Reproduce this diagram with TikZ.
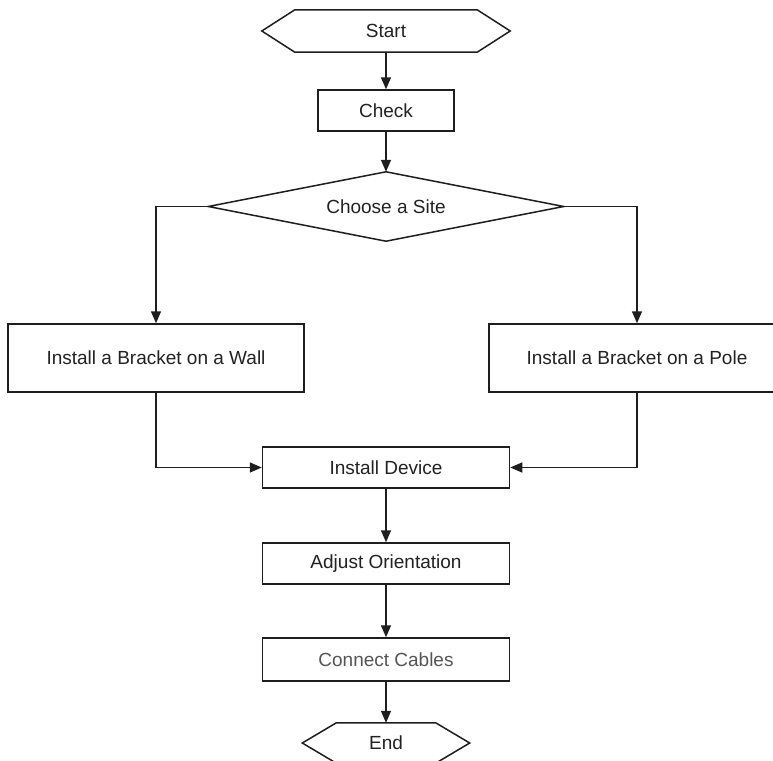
\documentclass[tikz,border=0pt]{standalone}
\usepackage{fontspec}
\setmainfont{Liberation Sans}
\usetikzlibrary{arrows.meta}
\definecolor{linegray}{HTML}{1E1E1E}
\definecolor{textgray}{HTML}{222222}
\definecolor{softgray}{HTML}{555555}
\tikzset{
  base/.style={inner sep=0pt, text=textgray, font=\fontsize{19}{22}\selectfont},
  outline/.style={draw=linegray, line width=1.5pt},
  stepbox/.style={base, outline, minimum width=#1},
  stepbox/.default=247pt,
  term/.style={base, minimum height=41pt},
  flow/.style={outline, -{Triangle[length=12pt,width=10pt]}}
}
\begin{document}
\begin{tikzpicture}[x=1pt, y=-1pt]
  \clip (0,0) rectangle (773,760);
  \fill[white] (0,0) rectangle (773,760);

  % terminals and decision (outlines drawn below)
  \node[term, minimum width=248pt, minimum height=42pt] (start) at (386,31) {Start};
  \node[term, minimum width=167pt, minimum height=40pt] (end) at (386,743) {End};
  \node[base, minimum width=355pt, minimum height=69pt] (site) at (386,206.5) {Choose a Site};

  % steps
  \node[stepbox=136pt, minimum height=41pt] (check) at (386,110.5) {Check};
  \node[stepbox=296pt, minimum height=68pt] (wall) at (156,358) {Install a Bracket on a Wall};
  \node[stepbox=296pt, minimum height=68pt] (pole) at (637,358) {Install a Bracket on a Pole};
  \node[stepbox, minimum height=41pt] (device) at (386,467.5) {Install Device};
  \node[stepbox, minimum height=41pt] (orient) at (386,563.5) {Adjust Orientation};
  \node[stepbox, minimum height=43pt, text=softgray] (cables) at (386,659.5) {Connect Cables};

  % hexagon and diamond outlines
  \draw[outline] (start.west) -- ([xshift=33pt]start.north west)
    -- ([xshift=-33pt]start.north east) -- (start.east)
    -- ([xshift=-33pt]start.south east) -- ([xshift=33pt]start.south west) -- cycle;
  \draw[outline] (end.west) -- ([xshift=34pt]end.north west)
    -- ([xshift=-34pt]end.north east) -- (end.east)
    -- ([xshift=-34pt]end.south east) -- ([xshift=34pt]end.south west) -- cycle;
  \draw[outline] (site.west) -- (site.north) -- (site.east) -- (site.south) -- cycle;

  % connectors
  \draw[flow] (start) -- (check);
  \draw[flow] (check) -- (site);
  \draw[flow] (site.west) -| (wall.north);
  \draw[flow] (site.east) -| (pole.north);
  \draw[flow] (wall.south) |- (device.west);
  \draw[flow] (pole.south) |- (device.east);
  \draw[flow] (device) -- (orient);
  \draw[flow] (orient) -- (cables);
  \draw[flow] (cables) -- (end);
\end{tikzpicture}
\end{document}
